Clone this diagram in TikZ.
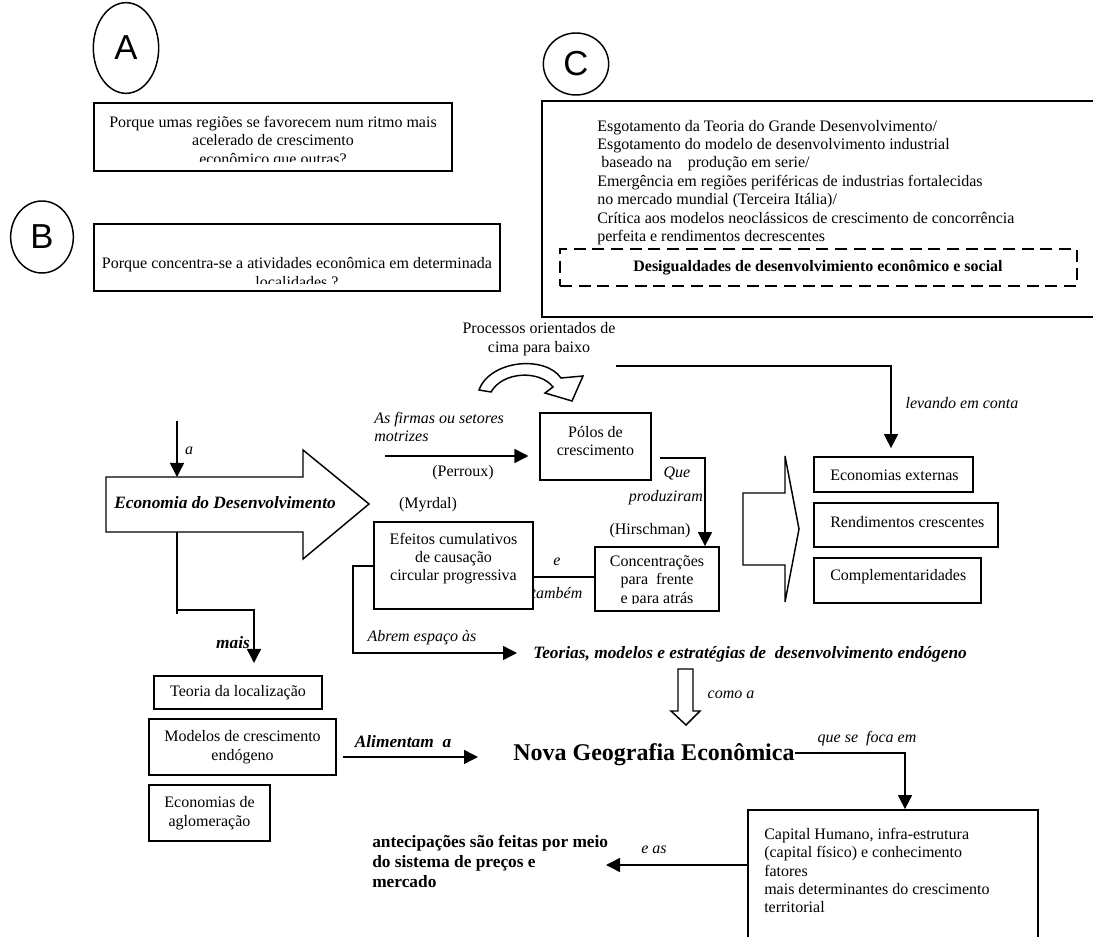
\documentclass[tikz,border=0pt]{standalone}
\usepackage{fontspec}
\IfFontExistsTF{Liberation Serif Italic}{%
\setmainfont{Liberation Serif}[ItalicFont={Liberation Serif Italic}, BoldFont={Liberation Serif Bold}, BoldItalicFont={Liberation Serif Bold Italic}]%
}{%
\setmainfont{Liberation Serif}[ItalicFont={Liberation Serif}, ItalicFeatures={FakeSlant=0.2}, BoldFont={Liberation Serif Bold}, BoldItalicFont={Liberation Serif Bold}, BoldItalicFeatures={FakeSlant=0.2}]%
}
\newfontfamily\sansf{Liberation Sans}
\usetikzlibrary{arrows.meta,fit,calc,shapes.geometric}
\tikzset{
  box/.style={draw, line width=1.3pt, inner sep=0pt},
  ln/.style={line width=1.1pt},
  arr/.style={ln, -{Triangle[length=10.5pt,width=10.5pt]}},
  txt/.style={inner sep=0pt, align=center},
  it/.style={txt, font=\itshape},
  bi/.style={txt, font=\bfseries\itshape\fontsize{13}{15}\selectfont},
  letter/.style={draw, ellipse, line width=1.1pt, inner sep=0pt, font=\sansf\fontsize{26}{28}\selectfont},
  dashbox/.style={draw, line width=1.4pt, inner sep=0pt, dash pattern=on 9pt off 5pt}
}
\begin{document}
\fontsize{12}{13.8}\selectfont
\begin{tikzpicture}[x=0.75pt,y=-0.75pt]
\useasboundingbox (0,0) rectangle (1093,937);
\clip (0,0) rectangle (1093,937);
\fill[white] (0,0) rectangle (1093,937);

% letters
\node[letter, minimum width=49pt, minimum height=68pt] (cA) at (126,48) {A};
\node[letter, minimum width=47pt, minimum height=54pt] (cB) at (42,237) {B};
\node[letter, minimum width=49pt, minimum height=46.5pt] (cC) at (576,64) {C};

% box A
\node[box, fit={(94,103) (452,171)}] (boxA) {};
\begin{scope}
\clip (94,103) rectangle (452,162);
\node[txt] (tA) at (273,142) {Porque umas regiões se favorecem num ritmo mais\\acelerado de crescimento\\econômico que outras?};
\end{scope}

% box B
\node[box, fit={(94,224) (500,291)}] (boxB) {};
\begin{scope}
\clip (94,224) rectangle (500,284);
\node[txt] (tB) at (297,272.5) {Porque concentra-se a atividades econômica em determinada\\localidades ?};
\end{scope}

% box C
\node[box, fit={(542,101) (1100,317)}] (boxC) {};
\node[txt, align=left, anchor=west] (tC) at (597,182.5) {Esgotamento da Teoria do Grande Desenvolvimento/\\
Esgotamento do modelo de desenvolvimento industrial\\
\hspace*{3pt}baseado na\hspace{12pt}produção em serie/\\
Emergência em regiões periféricas de industrias fortalecidas\\
no mercado mundial (Terceira Itália)/\\
Crítica aos modelos neoclássicos de crescimento de concorrência\\
perfeita e rendimentos decrescentes};
\node[dashbox, fit={(560,249) (1077,286)}] (dashC) {};
\node[txt, font=\bfseries] (tD) at (818,268) {Desigualdades de desenvolvimiento econômico e social};

% processos
\node[txt] (proc) at (539,339) {Processos orientados de\\cima para baixo};
\draw[ln, line join=miter] (479,390) .. controls (490,360) and (545,355) .. (561,378) -- (583,376) -- (572,401) -- (545,393) -- (553,387) .. controls (540,370) and (503,371) .. (491,392) -- cycle;

% economia do desenvolvimento
\draw[ln] (106,477) -- (303,477) -- (303,450) -- (369,504) -- (303,559) -- (303,532) -- (106,532) -- cycle;
\node[bi] (econ) at (225,503) {Economia do Desenvolvimento};
\coordinate (econTop) at (177,477);
\coordinate (econBot) at (177,532);
\coordinate (aStart) at (177,421);
\draw[arr] (aStart) -- (econTop);
\node[it] (la) at (189,451) {a};
\draw[ln] (econBot) -- (177,614);
\coordinate (maisTip) at (254,663);
\coordinate (maisS) at (177,610);
\draw[arr] (maisS) -| (maisTip);
\node[bi] (mais) at (233,643) {mais};

% firmas / polos
\node[it, align=left, anchor=west] (firm) at (374,427) {As firmas ou setores\\motrizes};
\node[box, fit={(540,413) (651,480)}] (polos) {};
\node[txt] (tpolos) at (595.5,441) {Pólos de\\crescimento};
\coordinate (fS) at (385,456);
\draw[arr, shorten >=8pt] (fS) -- (fS -| polos.west);
\node[txt] (perr) at (463,473) {(Perroux)};
\node[txt] (myr) at (428,505) {(Myrdal)};

% efeitos
\node[box, fit={(374,522) (533,609)}] (efe) {};
\node[txt] (tefe) at (453.5,558.5) {Efeitos cumulativos\\de causação\\circular progressiva};

% concentracoes
\node[box, fit={(595,547) (719,611)}] (conc) {};
\begin{scope}
\clip (595,547) rectangle (719,604);
\node[txt] (tconc) at (657,581) {Concentrações\\para\ \ frente\\e para atrás};
\end{scope}
\coordinate (eY) at (0,577);
\draw[ln] (efe.east |- eY) -- (conc.west |- eY);
\node[it] (le) at (557,562) {e};
\node[it] (ltam) at (557,593) {também};

% polos -> conc
\coordinate (pS) at (660,458);
\coordinate (pX) at (705,0);
\draw[arr] (pS) -| (conc.north -| pX);
\node[it] (que) at (677,474) {Que};
\node[it] (prod) at (666,498) {produziram};
\node[txt] (hir) at (650,531) {(Hirschman)};

% right block arrow
\draw[ln] (743,493) -- (785,493) -- (785,456) -- (799,529) -- (785,602) -- (785,565) -- (743,565) -- cycle;

% right boxes
\node[box, fit={(814,457) (973,492)}] (ext) {};
\node[txt, anchor=west] (text) at (830,475) {Economias externas};
\node[box, fit={(814,503) (998,547)}] (rend) {};
\node[txt, anchor=west] (trend) at (830,522) {Rendimentos crescentes};
\node[box, fit={(814,558) (981,603)}] (comp) {};
\node[txt, anchor=west] (tcomp) at (830,577) {Complementaridades};

% levando em conta
\coordinate (lS) at (616,366);
\coordinate (lX) at (891,0);
\draw[arr, shorten >=6pt] (lS) -| (ext.north -| lX);
\node[it] (lev) at (962,403) {levando em conta};

% abrem espaco
\coordinate (abY) at (0,566);
\coordinate (abTip) at (517,653);
\coordinate (abX) at (353,653);
\draw[arr] (efe.west |- abY) -| (abX) -- (abTip);
\node[it] (abr) at (422,638) {Abrem espaço às};
\node[bi, anchor=west] (teo) at (533,654) {Teorias, modelos e estratégias de\ \ desenvolvimento endógeno};

% hollow arrow
\draw[ln] (678,669) -- (693,669) -- (693,711) -- (700,711) -- (686,725) -- (671,711) -- (678,711) -- cycle;
\node[it] (como) at (731,695) {como a};

% nova geografia
\node[txt, anchor=west, font=\bfseries\fontsize{18}{21}\selectfont] (nova) at (513,755) {Nova Geografia Econômica};
\node[box, fit={(748,810) (1038,960)}] (capital) {};
\node[txt, align=left, anchor=west] (tcap) at (764,870.5) {Capital Humano, infra-estrutura\\(capital físico) e conhecimento\\fatores\\mais determinantes do crescimento\\territorial};
\coordinate (nY) at (0,753);
\coordinate (nX) at (905,0);
\draw[arr] (nova.east |- nY) -| (capital.north -| nX);
\node[it] (foca) at (867,739) {que se\ \ foca em};

% e as
\coordinate (eaTip) at (606,865);
\draw[arr] (capital.west |- eaTip) -- (eaTip);
\node[it] (eas) at (654,850) {e as};
\node[txt, align=left, anchor=west, font=\bfseries\fontsize{13}{15}\selectfont] (ant) at (372,861) {antecipações são feitas por meio\\do sistema de preços e\\mercado};

% lower-left boxes
\node[box, fit={(154,676) (322,709)}] (teoria) {};
\node[txt] (tteoria) at (238,693) {Teoria da localização};
\node[box, fit={(149,719) (336,775)}] (modelos) {};
\node[txt] (tmod) at (242.5,747) {Modelos de crescimento\\endógeno};
\node[box, fit={(149,785) (270,841)}] (aglom) {};
\node[txt] (taglom) at (209.5,813) {Economias de\\aglomeração};

% alimentam
\coordinate (alTip) at (478,757);
\draw[arr] ([xshift=4.5pt]modelos.east |- alTip) -- (alTip);
\node[bi] (alim) at (403,742) {Alimentam\ \ a};
\end{tikzpicture}
\end{document}
